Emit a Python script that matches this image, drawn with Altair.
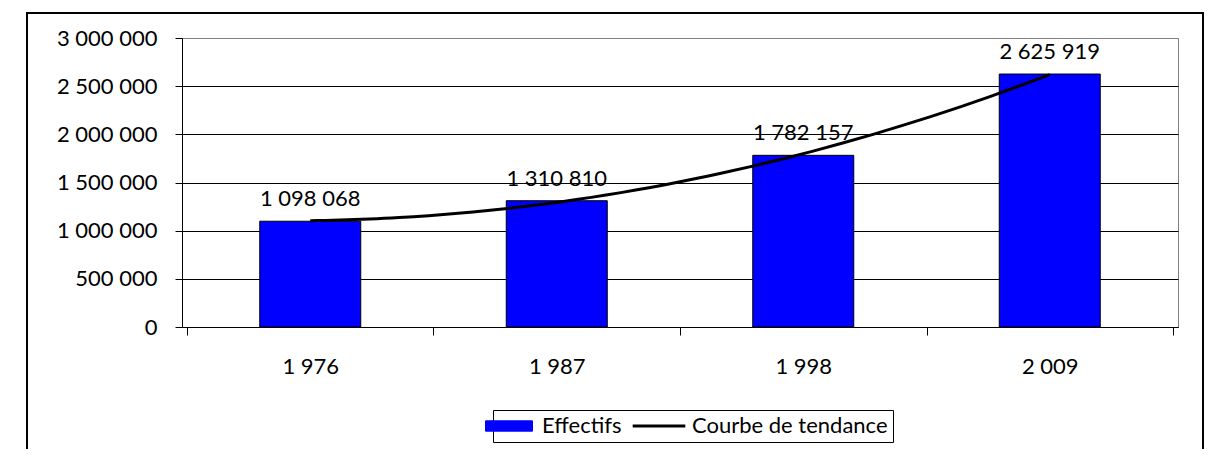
import altair as alt
import pandas as pd

# ---- data ----
annees = [1976, 1987, 1998, 2009]
effectifs = [1098068, 1310810, 1782157, 2625919]
series = ["Effectifs", "Courbe de tendance"]
y_ticks = [0, 500000, 1000000, 1500000, 2000000, 2500000, 3000000]
x_bounds = [1970.5, 1981.5, 1992.5, 2003.5, 2014.5]

df = pd.DataFrame({"annee": annees, "effectif": effectifs})
df["serie"] = series[0]
df["etiquette"] = [f"{v:,}".replace(",", " ") for v in effectifs]

FONT = "Lato"
FS = 22

x_scale = alt.Scale(domain=[x_bounds[0], x_bounds[-1]], nice=False, zero=False)
y_scale = alt.Scale(domain=[y_ticks[0], y_ticks[-1]], nice=False)
color_scale = alt.Scale(domain=series, range=["#0000FF", "#000000"])

x_axis = alt.Axis(
    title=None,
    values=x_bounds + annees,
    labelExpr="datum.value % 1 == 0 ? replace(format(datum.value, ','), /,/g, ' ') : ''",
    tickOpacity={"condition": {"test": "datum.value % 1 == 0", "value": 0}, "value": 1},
    tickSize=8,
    tickColor="black",
    domainColor="black",
    labelFont=FONT,
    labelFontSize=FS,
    labelColor="black",
    labelPadding=21,
    labelOverlap=False,
    labelFlush=False,
    grid=False,
)
y_axis = alt.Axis(
    title=None,
    values=y_ticks,
    labelExpr="replace(format(datum.value, ','), /,/g, ' ')",
    tickSize=7,
    tickColor="black",
    domainColor="black",
    labelFont=FONT,
    labelFontSize=FS,
    labelColor="black",
    labelPadding=18,
    grid=True,
    gridColor={"condition": {"test": "datum.value == 3000000", "value": "#808080"}, "value": "#000000"},
    gridWidth=1,
)

legend = alt.Legend(
    title=None,
    orient="none",
    legendX=311,
    legendY=372,
    direction="horizontal",
    symbolType={"expr": "datum.value == 'Effectifs' ? 'M-1,-0.22H1V0.22H-1Z' : 'M-1.12,0H1.12'"},
    symbolSize=2209,
    symbolStrokeColor="black",
    symbolStrokeWidth={"expr": "datum.value == 'Effectifs' ? 1 : 3"},
    labelFont=FONT,
    labelFontSize=FS,
    labelColor="black",
    labelOffset=22,
    labelLimit=400,
    columnPadding=4,
    strokeColor="black",
    fillColor="white",
    padding=5,
)

base = alt.Chart(df)

bars = base.mark_bar(size=101, stroke="black").encode(
    x=alt.X("annee:Q", scale=x_scale, axis=x_axis),
    y=alt.Y("effectif:Q", scale=y_scale, axis=y_axis),
    color=alt.Color("serie:N", scale=color_scale, legend=legend),
)

trend = (
    base.transform_regression("annee", "effectif", method="poly", order=2)
    .transform_calculate(serie="'Courbe de tendance'")
    .mark_line(strokeWidth=3)
    .encode(
        x=alt.X("annee:Q", scale=x_scale),
        y=alt.Y("effectif:Q", scale=y_scale),
        color=alt.Color("serie:N", scale=color_scale, legend=legend),
    )
)

labels = base.mark_text(
    font=FONT, fontSize=FS, color="black", baseline="alphabetic", dy=-15
).encode(
    x=alt.X("annee:Q", scale=x_scale),
    y=alt.Y("effectif:Q", scale=y_scale),
    text="etiquette:N",
)

frame = alt.Chart(pd.DataFrame({"k": [0]})).mark_rect(
    filled=False, stroke="black", strokeWidth=2
).encode(
    x=alt.value(-155), x2=alt.value(1021), y=alt.value(-25), y2=alt.value(430)
)

chart = (
    alt.layer(bars, trend, labels, frame)
    .properties(
        width=996,
        height=289,
        autosize=alt.AutoSizeParams(type="none"),
        padding={"left": 174, "top": 30, "right": 26, "bottom": 122},
        background="white",
    )
    .configure_view(stroke="#808080", strokeWidth=1)
)

chart.save("out.html", embed_options={"renderer": "svg", "actions": False})
